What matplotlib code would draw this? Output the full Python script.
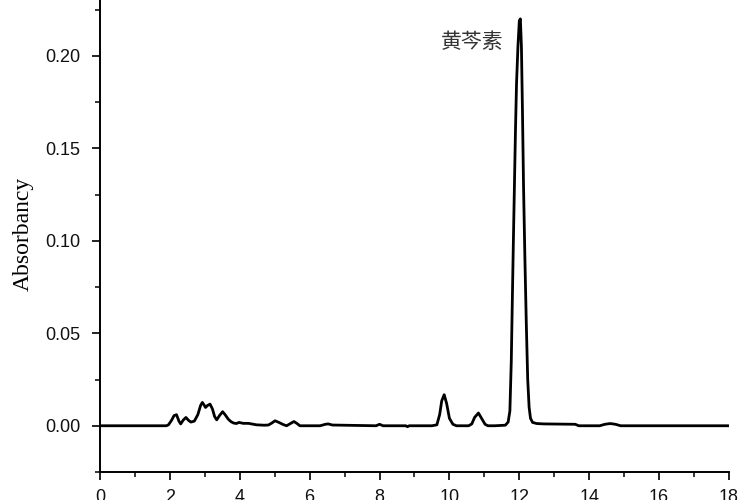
import matplotlib.pyplot as plt
from matplotlib.ticker import MultipleLocator, FormatStrFormatter

# retention time (min) and absorbance
time = [0.0, 1.90, 1.96, 2.05, 2.12, 2.19, 2.26, 2.31, 2.38, 2.46, 2.53, 2.60, 2.70,
        2.80, 2.88, 2.93, 2.98, 3.02, 3.08, 3.15, 3.22, 3.28, 3.34, 3.42, 3.51,
        3.58, 3.67, 3.75, 3.82, 3.90, 3.98, 4.10, 4.25, 4.48, 4.70, 4.82, 4.92,
        5.01, 5.12, 5.25, 5.34, 5.45, 5.55, 5.64, 5.72, 6.30, 6.45, 6.53, 6.65,
        7.90, 8.00, 8.10, 8.75, 8.80, 8.85, 9.50, 9.64, 9.72, 9.78, 9.85, 9.92,
        10.00, 10.10, 10.20, 10.55, 10.64, 10.72, 10.83, 10.92, 11.02, 11.10,
        11.30, 11.60, 11.68, 11.73, 11.77, 11.80, 11.83, 11.86, 11.89, 11.92,
        11.96, 12.00, 12.03, 12.06, 12.09, 12.12, 12.16, 12.20, 12.24, 12.28,
        12.32, 12.38, 12.50, 12.70, 13.60, 13.70, 14.30, 14.45, 14.60, 14.75,
        14.90, 18.0]
absorb = [0.0, 0.0, 0.0005, 0.003, 0.0055, 0.006, 0.0025, 0.001, 0.003, 0.0045,
          0.003, 0.002, 0.0025, 0.006, 0.011, 0.0126, 0.0112, 0.0099, 0.011, 0.0117,
          0.009, 0.005, 0.0032, 0.0055, 0.0076, 0.006, 0.0036, 0.0022, 0.0015,
          0.0012, 0.0018, 0.0013, 0.0013, 0.0005, 0.0003, 0.0004, 0.0015, 0.0027,
          0.0018, 0.0006, 0.0, 0.0012, 0.0023, 0.0012, 0.0, 0.0, 0.0008, 0.001,
          0.0004, 0.0, 0.0008, 0.0, 0.0, -0.0005, 0.0, 0.0, 0.0005, 0.006, 0.0135,
          0.0168, 0.012, 0.004, 0.0008, 0.0, 0.0, 0.001, 0.0045, 0.0069, 0.004,
          0.0008, 0.0, 0.0, 0.0003, 0.002, 0.008, 0.035, 0.068, 0.10, 0.13, 0.16,
          0.185, 0.205, 0.219, 0.220, 0.205, 0.17, 0.13, 0.090, 0.055, 0.025,
          0.010, 0.004, 0.0018, 0.0012, 0.001, 0.0008, 0.0, 0.0, 0.0008, 0.0012,
          0.0008, 0.0, 0.0]

peak_label = '黄芩素'

fig = plt.figure(figsize=(7.5, 5), dpi=100)
ax = fig.add_axes([0.1333, 0.056, 0.8387, 0.944])

ax.plot(time, absorb, color='black', lw=2.0, solid_joinstyle='round')

ax.set_xlim(0, 18)
ax.set_ylim(-0.025, 0.2302)
ax.xaxis.set_major_locator(MultipleLocator(2))
ax.xaxis.set_minor_locator(MultipleLocator(1))
ax.yaxis.set_major_locator(MultipleLocator(0.05))
ax.yaxis.set_minor_locator(MultipleLocator(0.025))
ax.yaxis.set_major_formatter(FormatStrFormatter('%.2f'))

for s in ['top', 'right']:
    ax.spines[s].set_visible(False)
for s in ['left', 'bottom']:
    ax.spines[s].set_linewidth(1.4)

ax.tick_params(which='major', direction='out', length=6, width=1.3,
               labelsize=13, colors='#111111')
ax.tick_params(which='minor', direction='out', length=3.5, width=1.1)
ax.tick_params(axis='y', which='major', pad=8)
ax.tick_params(axis='x', which='major', pad=6)
for lab in ax.get_xticklabels() + ax.get_yticklabels():
    lab.set_family('Liberation Sans')

ax.set_ylabel('Absorbancy', family='Liberation Serif', fontsize=17)
ax.yaxis.set_label_coords(-0.105, 0.505)

ax.text(10.65, 0.2075, peak_label, family=['Noto Sans CJK SC', 'DejaVu Sans'],
        fontsize=15, color='#333333', ha='center', va='center')

fig.savefig('out.png', dpi=100)
